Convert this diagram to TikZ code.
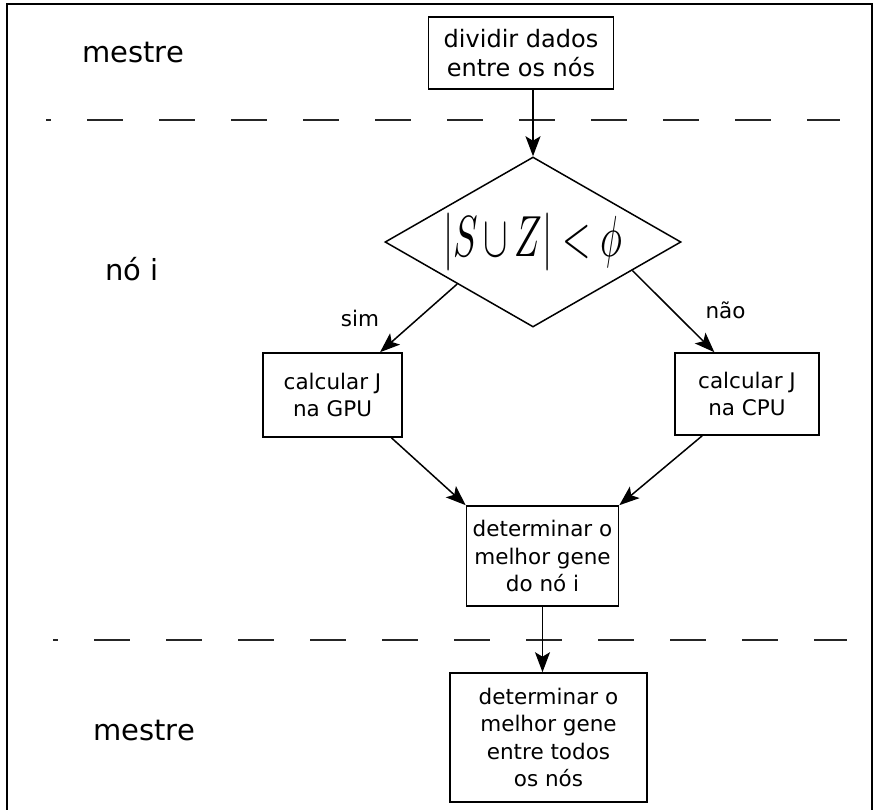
\documentclass[tikz,border=0pt]{standalone}
\usepackage{fontspec}
\setmainfont{DejaVu Sans}
\usepackage{graphicx}
\usetikzlibrary{shapes.geometric, arrows.meta, calc}

\begin{document}
\begin{tikzpicture}[x=1pt, y=-1pt,
  box/.style={draw, line width=1.6pt, inner sep=0pt, align=center,
    font=\fontsize{21.5}{27.5}\selectfont},
  lane/.style={font=\fontsize{29}{34}\selectfont, anchor=base},
  lbl/.style={font=\fontsize{21.5}{26}\selectfont, anchor=base},
  arr/.style={line width=1.5pt, -{Stealth[length=20pt,width=15pt,inset=4.5pt]}},
  sep/.style={line width=2pt, black!85, dash pattern=on 36pt off 36pt, dash phase=31pt},
]
\useasboundingbox (0,0) rectangle (878,809);
\begin{scope}
  \clip (0,0) rectangle (878,809);
  \draw[line width=2pt] (7,4) rectangle (872,840);
\end{scope}

% lane separators
\draw[sep] (46,120) -- (840,120);
\draw[sep] (53,640) -- (847,640);

% lane names
\node[lane] (m1) at (133,62) {mestre};
\node[lane] (ni) at (132,280) {nó i};
\node[lane] (m2) at (144,740) {mestre};

% steps
\node[box, minimum width=185pt, minimum height=72pt,
      font=\fontsize{24}{29}\selectfont] (top) at (521,53) {dividir dados\\entre os nós};
\node[draw, diamond, line width=1.5pt, shape aspect=1.74, inner sep=0pt,
      minimum width=296pt, minimum height=170pt] (dia) at (533,242)
      {\scalebox{3.66}[5.8]{$\medmuskip=3mu |S\cup Z|<\phi$}};
\node[box, minimum width=139pt, minimum height=84pt] (gpu) at (332.5,395) {calcular J\\na GPU};
\node[box, minimum width=144pt, minimum height=82pt] (cpu) at (747,394) {calcular J\\na CPU};
\node[box, minimum width=152pt, minimum height=100pt] (mid) at (542.5,556) {determinar o\\melhor gene\\do nó i};
\node[box, minimum width=197pt, minimum height=129pt] (fin) at (548.5,737.5) {determinar o\\melhor gene\\entre todos\\os nós};

% branch labels
\node[lbl] (sim) at (360,326) {sim};
\node[lbl] (nao) at (725.5,318) {não};

% connectors
\draw[arr] (dia.north |- top.south) -- (dia.north);
\draw[arr] (dia.209.5) -- (gpu.42.7);
\draw[arr] (dia.-16.3) -- (cpu.128);
\draw[arr] (gpu.-36) -- (mid.north west);
\draw[arr] (cpu.223) -- (mid.north east);
\draw[arr] (mid.south) -- (mid.south |- fin.north);
\end{tikzpicture}
\end{document}
